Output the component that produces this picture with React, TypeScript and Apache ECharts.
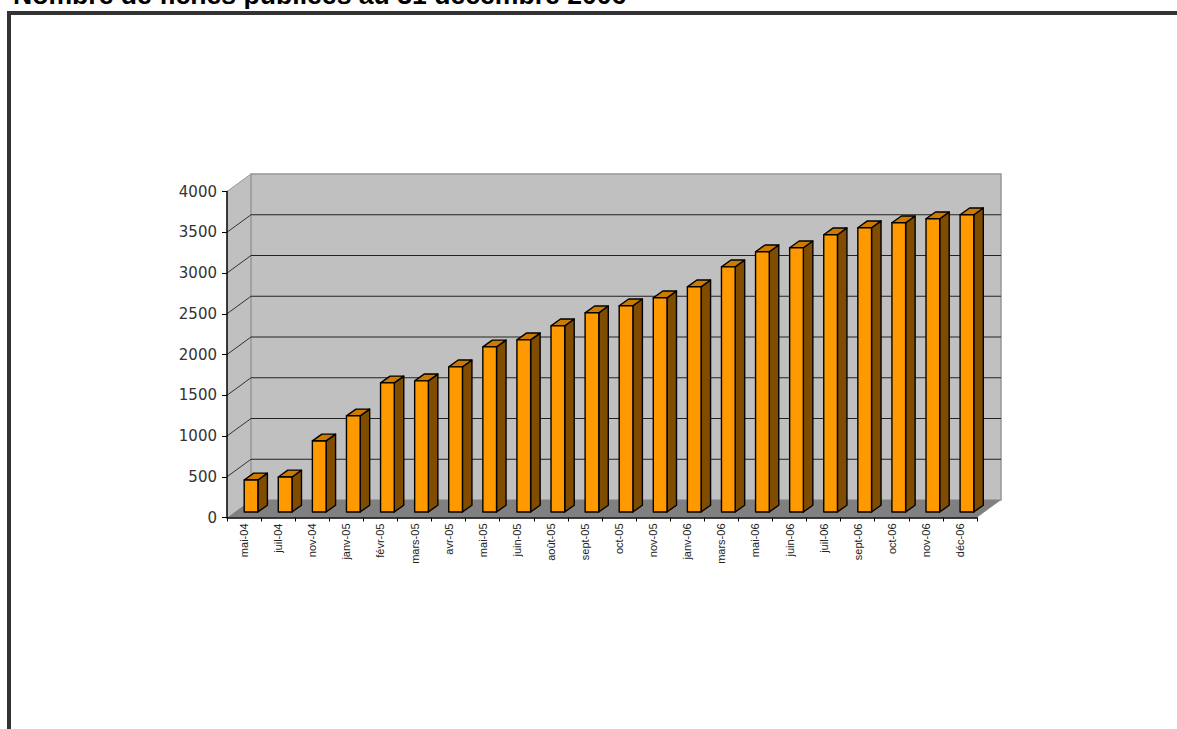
import React, { useEffect, useRef } from "react";
import * as echarts from "echarts";

const titleText = "Nombre de fiches publiées au 31 décembre 2006";
const categories = ["mai-04","juil-04","nov-04","janv-05","févr-05","mars-05","avr-05","mai-05","juin-05","août-05","sept-05","oct-05","nov-05","janv-06","mars-06","mai-06","juin-06","juil-06","sept-06","oct-06","nov-06","déc-06"];
const values = [393,430,872,1179,1584,1609,1781,2026,2112,2284,2444,2530,2628,2763,3008,3193,3242,3402,3488,3549,3598,3647];
const yTicks = [0,500,1000,1500,2000,2500,3000,3500,4000];

const WALL_DX = 24;
const WALL_DY = 17.5;
const BAR_W = 13.7;
const BAR_OFF_X = 7;
const BAR_OFF_Y = 5.5;
const BAR_DX = 9.5;
const BAR_DY = 6.8;

export default function App() {
  const ref = useRef<HTMLDivElement>(null);
  useEffect(() => {
    document.body.style.margin = "0";
    document.body.style.overflow = "hidden";
    const chart = echarts.init(ref.current!, undefined, { renderer: "svg" });
    chart.setOption({
      animation: false,
      backgroundColor: "#ffffff",
      title: {
        text: titleText,
        left: 8,
        top: -24,
        textStyle: { fontFamily: "Liberation Sans", fontWeight: "bold", fontSize: 26.6, color: "#000" },
      },
      graphic: [
        { type: "rect", shape: { x: 7, y: 11, width: 1170, height: 4 }, style: { fill: "#333333" }, z: 10 },
        { type: "rect", shape: { x: 7, y: 11, width: 4, height: 718 }, style: { fill: "#333333" }, z: 10 },
      ],
      grid: { left: 227, width: 750, top: 191.5, height: 326, containLabel: false },
      xAxis: {
        type: "category",
        data: categories,
        z: 6,
        axisLine: { lineStyle: { color: "#000", width: 1.5 } },
        axisTick: { show: true, length: 4, alignWithLabel: false, lineStyle: { color: "#000" } },
        axisLabel: { interval: 0, rotate: 90, margin: 6, fontFamily: "Liberation Sans", fontSize: 11, color: "#222" },
      },
      yAxis: {
        type: "value",
        min: 0,
        max: 4000,
        interval: 500,
        z: 6,
        splitLine: { show: false },
        axisLine: { show: true, lineStyle: { color: "#000", width: 1.5 } },
        axisTick: { show: true, length: 5, lineStyle: { color: "#000" } },
        axisLabel: { margin: 10, fontFamily: "DejaVu Sans", fontSize: 15, color: "#333", formatter: (v: number) => String(v) },
      },
      series: [
        {
          type: "custom",
          name: "walls",
          z: 1,
          silent: true,
          clip: false,
          data: [[0, 0]],
          renderItem: (params: any, api: any) => {
            const g = params.coordSys;
            const l = g.x, r = g.x + g.width, t = g.y, b = g.y + g.height;
            const children: any[] = [
              { type: "polygon", shape: { points: [[l, t], [l + WALL_DX, t - WALL_DY], [l + WALL_DX, b - WALL_DY], [l, b]] }, style: { fill: "#c0c0c0", stroke: "none" } },
              { type: "rect", shape: { x: l + WALL_DX, y: t - WALL_DY, width: g.width, height: g.height }, style: { fill: "#c0c0c0", stroke: "#969696", lineWidth: 1.5 } },
              { type: "polygon", shape: { points: [[l, b], [l + WALL_DX, b - WALL_DY], [r + WALL_DX, b - WALL_DY], [r, b]] }, style: { fill: "#808080", stroke: "none" } },
            ];
            yTicks.forEach((v) => {
              if (v === 0) return;
              const y = api.coord([0, v])[1];
              children.push({ type: "line", shape: { x1: l, y1: y, x2: l + WALL_DX, y2: y - WALL_DY }, style: { stroke: v === 4000 ? "#969696" : "#333", lineWidth: 1 } });
              if (v !== 4000) {
                children.push({ type: "line", shape: { x1: l + WALL_DX, y1: y - WALL_DY, x2: r + WALL_DX, y2: y - WALL_DY }, style: { stroke: "#222", lineWidth: 1.2 } });
              }
            });
            return { type: "group", children };
          },
        },
        {
          type: "custom",
          name: "Fiches",
          z: 3,
          clip: false,
          data: values.map((v, i) => [i, v]),
          encode: { x: 0, y: 1 },
          renderItem: (_params: any, api: any) => {
            const top = api.coord([api.value(0), api.value(1)]);
            const base = api.coord([api.value(0), 0]);
            const x0 = top[0] + BAR_OFF_X - BAR_W / 2;
            const x1 = x0 + BAR_W;
            const yt = top[1] - BAR_OFF_Y;
            const yb = base[1] - BAR_OFF_Y;
            const edge = { stroke: "#000", lineWidth: 1.4, lineJoin: "round" };
            return {
              type: "group",
              children: [
                { type: "polygon", shape: { points: [[x1, yt], [x1 + BAR_DX, yt - BAR_DY], [x1 + BAR_DX, yb - BAR_DY], [x1, yb]] }, style: { fill: "#7f4c00", ...edge } },
                { type: "polygon", shape: { points: [[x0, yt], [x0 + BAR_DX, yt - BAR_DY], [x1 + BAR_DX, yt - BAR_DY], [x1, yt]] }, style: { fill: "#cc7a00", ...edge } },
                { type: "rect", shape: { x: x0, y: yt, width: BAR_W, height: yb - yt }, style: { fill: "#ff9900", ...edge } },
              ],
            };
          },
        },
      ],
    });
    return () => chart.dispose();
  }, []);
  return <div ref={ref} style={{ position: "absolute", left: 0, top: 0, width: 1177, height: 729 }} />;
}
